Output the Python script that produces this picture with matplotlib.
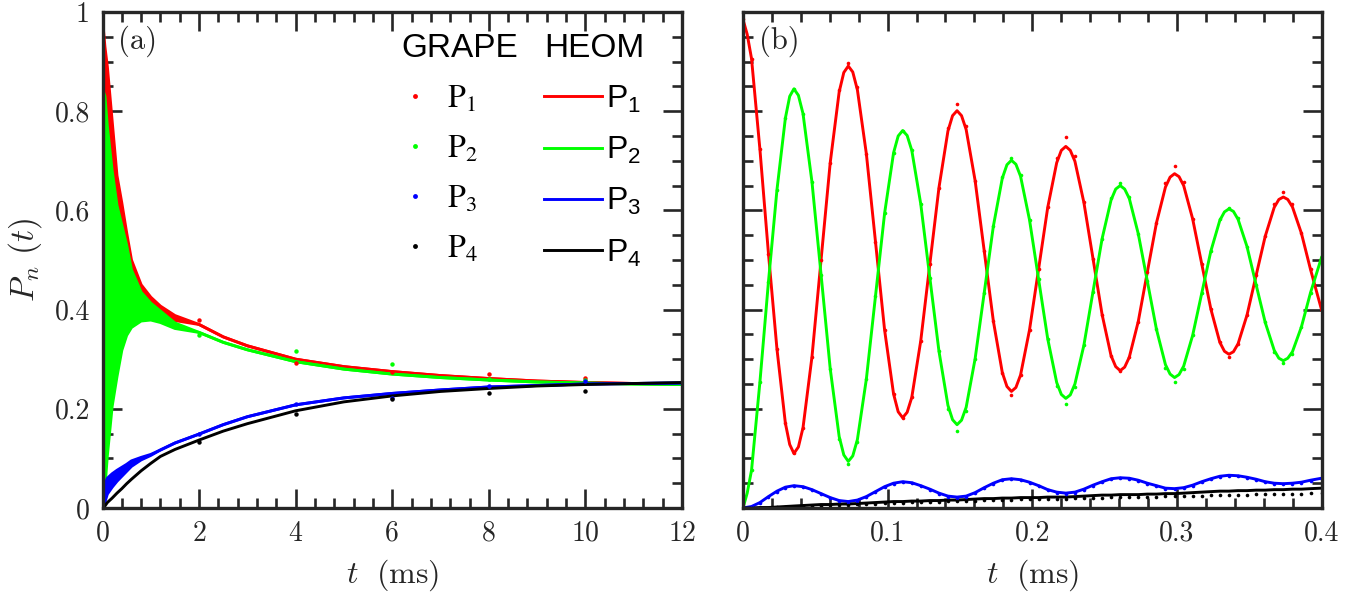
import matplotlib
matplotlib.use('Agg')
import matplotlib.pyplot as plt
from matplotlib.lines import Line2D
from matplotlib.ticker import MultipleLocator

plt.rcParams['font.family'] = ['cmr10']
plt.rcParams['mathtext.fontset'] = 'cm'
plt.rcParams['mathtext.rm'] = 'Liberation Sans'
plt.rcParams['axes.formatter.use_mathtext'] = True

# ---- panel (a): long time, 0-12 ms (fast oscillation drawn as its envelope) ----
t_left = [0, 0.05, 0.1, 0.2, 0.3, 0.4, 0.5, 0.6, 0.8, 1.0, 1.2, 1.5, 2.0, 2.5, 3.0,
          4.0, 5.0, 6.0, 7.0, 8.0, 9.0, 10.0, 11.0, 12.0]
p1_hi = [0.985, 0.93, 0.89, 0.78, 0.67, 0.615, 0.555, 0.50, 0.45, 0.425, 0.407, 0.388, 0.370,
         0.345, 0.327, 0.300, 0.285, 0.275, 0.267, 0.261, 0.256, 0.253, 0.251, 0.250]
p1_lo = [0.11, 0.12, 0.175, 0.24, 0.29, 0.33, 0.355, 0.37, 0.38, 0.385, 0.385, 0.378, 0.370,
         0.345, 0.327, 0.300, 0.285, 0.275, 0.267, 0.261, 0.256, 0.253, 0.251, 0.250]
p2_hi = [0.845, 0.83, 0.77, 0.68, 0.61, 0.57, 0.53, 0.48, 0.435, 0.413, 0.397, 0.373, 0.354,
         0.334, 0.319, 0.295, 0.280, 0.270, 0.263, 0.258, 0.254, 0.252, 0.250, 0.249]
p2_lo = [0.0, 0.04, 0.105, 0.205, 0.265, 0.318, 0.348, 0.364, 0.377, 0.379, 0.374, 0.362, 0.354,
         0.334, 0.319, 0.295, 0.280, 0.270, 0.263, 0.258, 0.254, 0.252, 0.250, 0.249]
p3_hi = [0.0, 0.048, 0.060, 0.069, 0.076, 0.082, 0.088, 0.095, 0.102, 0.108, 0.117, 0.131, 0.149,
         0.168, 0.184, 0.208, 0.222, 0.231, 0.238, 0.244, 0.247, 0.250, 0.251, 0.252]
p3_lo = [0.0, 0.012, 0.028, 0.042, 0.054, 0.064, 0.074, 0.084, 0.097, 0.106, 0.117, 0.131, 0.149,
         0.168, 0.184, 0.208, 0.222, 0.231, 0.238, 0.244, 0.247, 0.250, 0.251, 0.252]
p4_left = [0.0, 0.004, 0.011, 0.020, 0.030, 0.039, 0.049, 0.058, 0.075, 0.090, 0.104, 0.118, 0.137,
           0.155, 0.170, 0.196, 0.214, 0.226, 0.235, 0.241, 0.246, 0.249, 0.251, 0.253]

tg_left = [2, 4, 6, 8, 10]
g1_left = [0.379, 0.292, 0.275, 0.270, 0.262]
g2_left = [0.349, 0.316, 0.290, 0.260, 0.258]
g3_left = [0.149, 0.210, 0.221, 0.245, 0.257]
g4_left = [0.134, 0.189, 0.219, 0.231, 0.235]

# ---- panel (b): short time, 0-0.4 ms ----
# HEOM P1, P2 (finer sampling near the extrema)
t_fine = [0, 0.0029, 0.0059, 0.0117, 0.0176, 0.0235, 0.0293, 0.0323, 0.0352, 0.0383,
          0.0415, 0.0477, 0.0540, 0.0603, 0.0665, 0.0697, 0.0728, 0.0759,
          0.0791, 0.0853, 0.0916, 0.0979, 0.1041, 0.1073, 0.1104, 0.1135,
          0.1167, 0.1229, 0.1292, 0.1355, 0.1417, 0.1449, 0.1480, 0.1511,
          0.1543, 0.1605, 0.1668, 0.1731, 0.1793, 0.1825, 0.1856, 0.1887,
          0.1919, 0.1981, 0.2044, 0.2107, 0.2169, 0.2201, 0.2232, 0.2263,
          0.2295, 0.2357, 0.2420, 0.2483, 0.2545, 0.2577, 0.2608, 0.2639,
          0.2671, 0.2733, 0.2796, 0.2859, 0.2921, 0.2953, 0.2984, 0.3015,
          0.3047, 0.3109, 0.3172, 0.3235, 0.3297, 0.3329, 0.3360, 0.3391,
          0.3423, 0.3485, 0.3548, 0.3611, 0.3673, 0.3705, 0.3736, 0.3767,
          0.3799, 0.3861, 0.3924, 0.4000]
h1 = [0.985, 0.955, 0.906, 0.723, 0.513, 0.320, 0.171, 0.128, 0.110, 0.123,
      0.162, 0.305, 0.501, 0.696, 0.839, 0.878, 0.891, 0.879,
      0.843, 0.714, 0.537, 0.359, 0.230, 0.194, 0.182, 0.193,
      0.223, 0.337, 0.492, 0.646, 0.760, 0.791, 0.801, 0.791,
      0.763, 0.660, 0.518, 0.377, 0.273, 0.245, 0.235, 0.243,
      0.268, 0.359, 0.482, 0.606, 0.696, 0.721, 0.729, 0.721,
      0.699, 0.616, 0.503, 0.390, 0.307, 0.285, 0.277, 0.284,
      0.304, 0.376, 0.476, 0.575, 0.647, 0.667, 0.674, 0.668,
      0.650, 0.583, 0.492, 0.401, 0.334, 0.316, 0.310, 0.315,
      0.331, 0.389, 0.469, 0.548, 0.606, 0.622, 0.627, 0.622,
      0.607, 0.554, 0.481, 0.400]
h2 = [0.000, 0.030, 0.076, 0.254, 0.456, 0.642, 0.786, 0.830, 0.845, 0.832,
      0.795, 0.657, 0.470, 0.281, 0.144, 0.107, 0.094, 0.105,
      0.138, 0.260, 0.427, 0.594, 0.716, 0.750, 0.761, 0.751,
      0.721, 0.613, 0.464, 0.316, 0.207, 0.178, 0.168, 0.177,
      0.203, 0.301, 0.434, 0.568, 0.665, 0.692, 0.701, 0.693,
      0.669, 0.581, 0.461, 0.341, 0.253, 0.229, 0.221, 0.228,
      0.250, 0.328, 0.436, 0.543, 0.621, 0.643, 0.650, 0.643,
      0.624, 0.553, 0.457, 0.360, 0.289, 0.270, 0.263, 0.269,
      0.286, 0.348, 0.433, 0.518, 0.580, 0.597, 0.603, 0.598,
      0.582, 0.527, 0.450, 0.374, 0.318, 0.302, 0.297, 0.302,
      0.315, 0.365, 0.434, 0.505]

# HEOM P3, P4 and all GRAPE points
t_right = [0, 0.0059, 0.0117, 0.0176, 0.0235, 0.0293, 0.0352,
           0.0415, 0.0477, 0.0540, 0.0603, 0.0665, 0.0728,
           0.0791, 0.0853, 0.0916, 0.0979, 0.1041, 0.1104,
           0.1167, 0.1229, 0.1292, 0.1355, 0.1417, 0.1480,
           0.1543, 0.1605, 0.1668, 0.1731, 0.1793, 0.1856,
           0.1919, 0.1981, 0.2044, 0.2107, 0.2169, 0.2232,
           0.2295, 0.2357, 0.2420, 0.2483, 0.2545, 0.2608,
           0.2671, 0.2733, 0.2796, 0.2859, 0.2921, 0.2984,
           0.3047, 0.3109, 0.3172, 0.3235, 0.3297, 0.3360,
           0.3423, 0.3485, 0.3548, 0.3611, 0.3673, 0.3736,
           0.3799, 0.3861, 0.3924, 0.4000]
h3 = [0.000, 0.003, 0.011, 0.023, 0.034, 0.042, 0.045,
      0.043, 0.037, 0.029, 0.021, 0.015, 0.013,
      0.016, 0.023, 0.033, 0.043, 0.050, 0.053,
      0.051, 0.045, 0.038, 0.030, 0.024, 0.022,
      0.024, 0.031, 0.041, 0.050, 0.057, 0.059,
      0.057, 0.052, 0.045, 0.037, 0.032, 0.030,
      0.032, 0.038, 0.046, 0.053, 0.059, 0.061,
      0.060, 0.056, 0.050, 0.045, 0.040, 0.039,
      0.041, 0.046, 0.053, 0.059, 0.064, 0.066,
      0.065, 0.062, 0.058, 0.053, 0.050, 0.049,
      0.050, 0.052, 0.056, 0.060]
h4 = [0.000, 0.000, 0.001, 0.001, 0.002, 0.003, 0.004,
      0.005, 0.006, 0.007, 0.007, 0.008, 0.008,
      0.009, 0.010, 0.011, 0.012, 0.013, 0.013,
      0.014, 0.014, 0.015, 0.015, 0.016, 0.016,
      0.017, 0.018, 0.019, 0.019, 0.020, 0.020,
      0.021, 0.021, 0.021, 0.022, 0.022, 0.022,
      0.023, 0.024, 0.025, 0.026, 0.026, 0.027,
      0.027, 0.027, 0.028, 0.028, 0.029, 0.029,
      0.030, 0.031, 0.032, 0.033, 0.034, 0.034,
      0.035, 0.035, 0.036, 0.036, 0.037, 0.037,
      0.038, 0.038, 0.039, 0.040]

g1 = [0.985, 0.906, 0.723, 0.513, 0.320, 0.171, 0.110,
      0.162, 0.305, 0.501, 0.696, 0.843, 0.898,
      0.848, 0.714, 0.537, 0.359, 0.230, 0.182,
      0.223, 0.337, 0.492, 0.646, 0.766, 0.815,
      0.770, 0.660, 0.518, 0.377, 0.273, 0.228,
      0.268, 0.359, 0.482, 0.606, 0.705, 0.748,
      0.710, 0.616, 0.503, 0.390, 0.307, 0.277,
      0.304, 0.376, 0.476, 0.575, 0.655, 0.690,
      0.658, 0.583, 0.492, 0.401, 0.334, 0.305,
      0.331, 0.389, 0.469, 0.548, 0.612, 0.637,
      0.612, 0.554, 0.481, 0.400]
g2 = [0.000, 0.076, 0.254, 0.456, 0.642, 0.786, 0.845,
      0.795, 0.657, 0.470, 0.281, 0.140, 0.088,
      0.134, 0.260, 0.427, 0.594, 0.716, 0.761,
      0.721, 0.613, 0.464, 0.316, 0.200, 0.155,
      0.196, 0.301, 0.434, 0.568, 0.668, 0.705,
      0.672, 0.581, 0.461, 0.341, 0.246, 0.210,
      0.244, 0.328, 0.436, 0.543, 0.624, 0.655,
      0.627, 0.553, 0.457, 0.360, 0.283, 0.254,
      0.280, 0.348, 0.433, 0.518, 0.582, 0.605,
      0.584, 0.527, 0.450, 0.374, 0.314, 0.292,
      0.311, 0.365, 0.434, 0.505]
g3 = [0.000, 0.003, 0.010, 0.022, 0.033, 0.041, 0.044,
      0.042, 0.036, 0.028, 0.020, 0.014, 0.012,
      0.015, 0.022, 0.032, 0.042, 0.049, 0.052,
      0.050, 0.044, 0.037, 0.029, 0.023, 0.021,
      0.023, 0.030, 0.040, 0.049, 0.056, 0.058,
      0.056, 0.051, 0.044, 0.036, 0.031, 0.029,
      0.031, 0.037, 0.045, 0.052, 0.058, 0.060,
      0.059, 0.055, 0.049, 0.044, 0.039, 0.038,
      0.040, 0.045, 0.052, 0.058, 0.063, 0.065,
      0.064, 0.061, 0.057, 0.052, 0.049, 0.048,
      0.049, 0.051, 0.055, 0.059]
g4 = [0.000, 0.000, 0.001, 0.001, 0.002, 0.003, 0.003,
      0.004, 0.005, 0.005, 0.006, 0.007, 0.007,
      0.008, 0.009, 0.009, 0.010, 0.011, 0.011,
      0.012, 0.012, 0.013, 0.013, 0.014, 0.014,
      0.015, 0.015, 0.016, 0.016, 0.017, 0.017,
      0.018, 0.018, 0.018, 0.019, 0.019, 0.019,
      0.020, 0.020, 0.021, 0.021, 0.022, 0.022,
      0.022, 0.023, 0.023, 0.023, 0.024, 0.024,
      0.024, 0.025, 0.025, 0.026, 0.026, 0.026,
      0.027, 0.027, 0.028, 0.028, 0.028, 0.029,
      0.029, 0.029, 0.030, 0.030]

colors = ['#ff0000', '#00ff00', '#0000ff', '#000000']
labels = [r'$\mathrm{P}_1$', r'$\mathrm{P}_2$', r'$\mathrm{P}_3$', r'$\mathrm{P}_4$']
yticks = [0, 0.2, 0.4, 0.6, 0.8, 1.0]
ytick_labels = ['0', '0.2', '0.4', '0.6', '0.8', '1']
xticks_left = [0, 2, 4, 6, 8, 10, 12]
xticks_right = [0, 0.1, 0.2, 0.3, 0.4]
xtick_labels_right = ['0', '0.1', '0.2', '0.3', '0.4']

frame = '#262626'
lw = 2.1
ms = 2.6

fig = plt.figure(figsize=(13.64, 5.99), dpi=100)
ax1 = fig.add_axes([102.5 / 1364, 91 / 599, 579.5 / 1364, 496 / 599])
ax2 = fig.add_axes([743 / 1364, 91 / 599, 578.5 / 1364, 496 / 599])

# panel (a)
bands = [(p1_lo, p1_hi, colors[0]), (p2_lo, p2_hi, colors[1]), (p3_lo, p3_hi, colors[2])]
for z, (lo, hi, c) in enumerate(bands):
    ax1.fill_between(t_left, lo, hi, color=c, lw=0, zorder=2 + z)
    ax1.plot(t_left, hi, color=c, lw=lw, zorder=2 + z)
    ax1.plot(t_left, lo, color=c, lw=lw, zorder=2 + z)
ax1.plot(t_left, p4_left, color=colors[3], lw=lw, zorder=5)
for g, c in zip([g1_left, g2_left, g3_left, g4_left], colors):
    ax1.plot(tg_left, g, ls='none', marker='o', ms=3.2, color=c, mec='none', zorder=6)

# panel (b)
ax2.plot(t_fine, h1, color=colors[0], lw=lw)
ax2.plot(t_fine, h2, color=colors[1], lw=lw)
ax2.plot(t_right, h3, color=colors[2], lw=lw)
ax2.plot(t_right, h4, color=colors[3], lw=lw)
for g, c in zip([g1, g2, g3, g4], colors):
    ax2.plot(t_right, g, ls='none', marker='o', ms=ms, color=c, mec='none')

for ax in (ax1, ax2):
    ax.set_ylim(0, 1)
    ax.set_yticks(yticks)
    ax.yaxis.set_minor_locator(MultipleLocator(0.05))
    for s in ax.spines.values():
        s.set_linewidth(2.4)
        s.set_color(frame)
        s.set_zorder(10)
    ax.tick_params(which='both', direction='in', top=True, right=True, color=frame,
                   width=1.9, labelsize=20, labelcolor=frame, pad=9)
    ax.tick_params(which='major', length=13.5)
    ax.tick_params(which='minor', length=7.2)
    ax.set_xlabel(r'$t\ \ (\mathrm{ms})$', fontsize=23, color=frame, labelpad=8)

ax1.set_xlim(0, 12)
ax1.set_xticks(xticks_left, [str(v) for v in xticks_left])
ax1.xaxis.set_minor_locator(MultipleLocator(0.4))
ax1.set_yticklabels(ytick_labels)
ax1.set_ylabel(r'$P_n\ (t)$', fontsize=24, color=frame, labelpad=8)

ax2.set_xlim(0, 0.4)
ax2.set_xticks(xticks_right, xtick_labels_right)
ax2.xaxis.set_minor_locator(MultipleLocator(0.02))
ax2.tick_params(labelleft=False)

ax1.text(0.027, 0.94, '(a)', transform=ax1.transAxes, fontsize=22, va='center', color=frame)
ax2.text(0.027, 0.94, '(b)', transform=ax2.transAxes, fontsize=22, va='center', color=frame)

# legend: GRAPE dots and HEOM lines
h_grape = [Line2D([], [], ls='none', marker='o', ms=3.5, color=c, mec='none') for c in colors]
h_heom = [Line2D([], [], color=c, lw=lw) for c in colors]
title_font = {'family': 'Liberation Sans', 'size': 24}
leg1 = ax1.legend(h_grape, labels, title='GRAPE', loc='upper left', bbox_to_anchor=(0.515, 0.958),
                  frameon=False, fontsize=23, handlelength=0.9, handletextpad=0.55,
                  labelspacing=0.62, borderpad=0, borderaxespad=0, alignment='left',
                  title_fontproperties=title_font)
for t in leg1.get_texts():
    t.set_math_fontfamily('stix')
ax1.add_artist(leg1)
leg2 = ax1.legend(h_heom, labels, title='HEOM', loc='upper left', bbox_to_anchor=(0.762, 0.958),
                  frameon=False, fontsize=23, handlelength=1.8, handletextpad=0.15,
                  labelspacing=0.62, borderpad=0, borderaxespad=0, alignment='left',
                  title_fontproperties=title_font)
for t in leg2.get_texts():
    t.set_math_fontfamily('custom')

fig.savefig('out.png', dpi=100)
